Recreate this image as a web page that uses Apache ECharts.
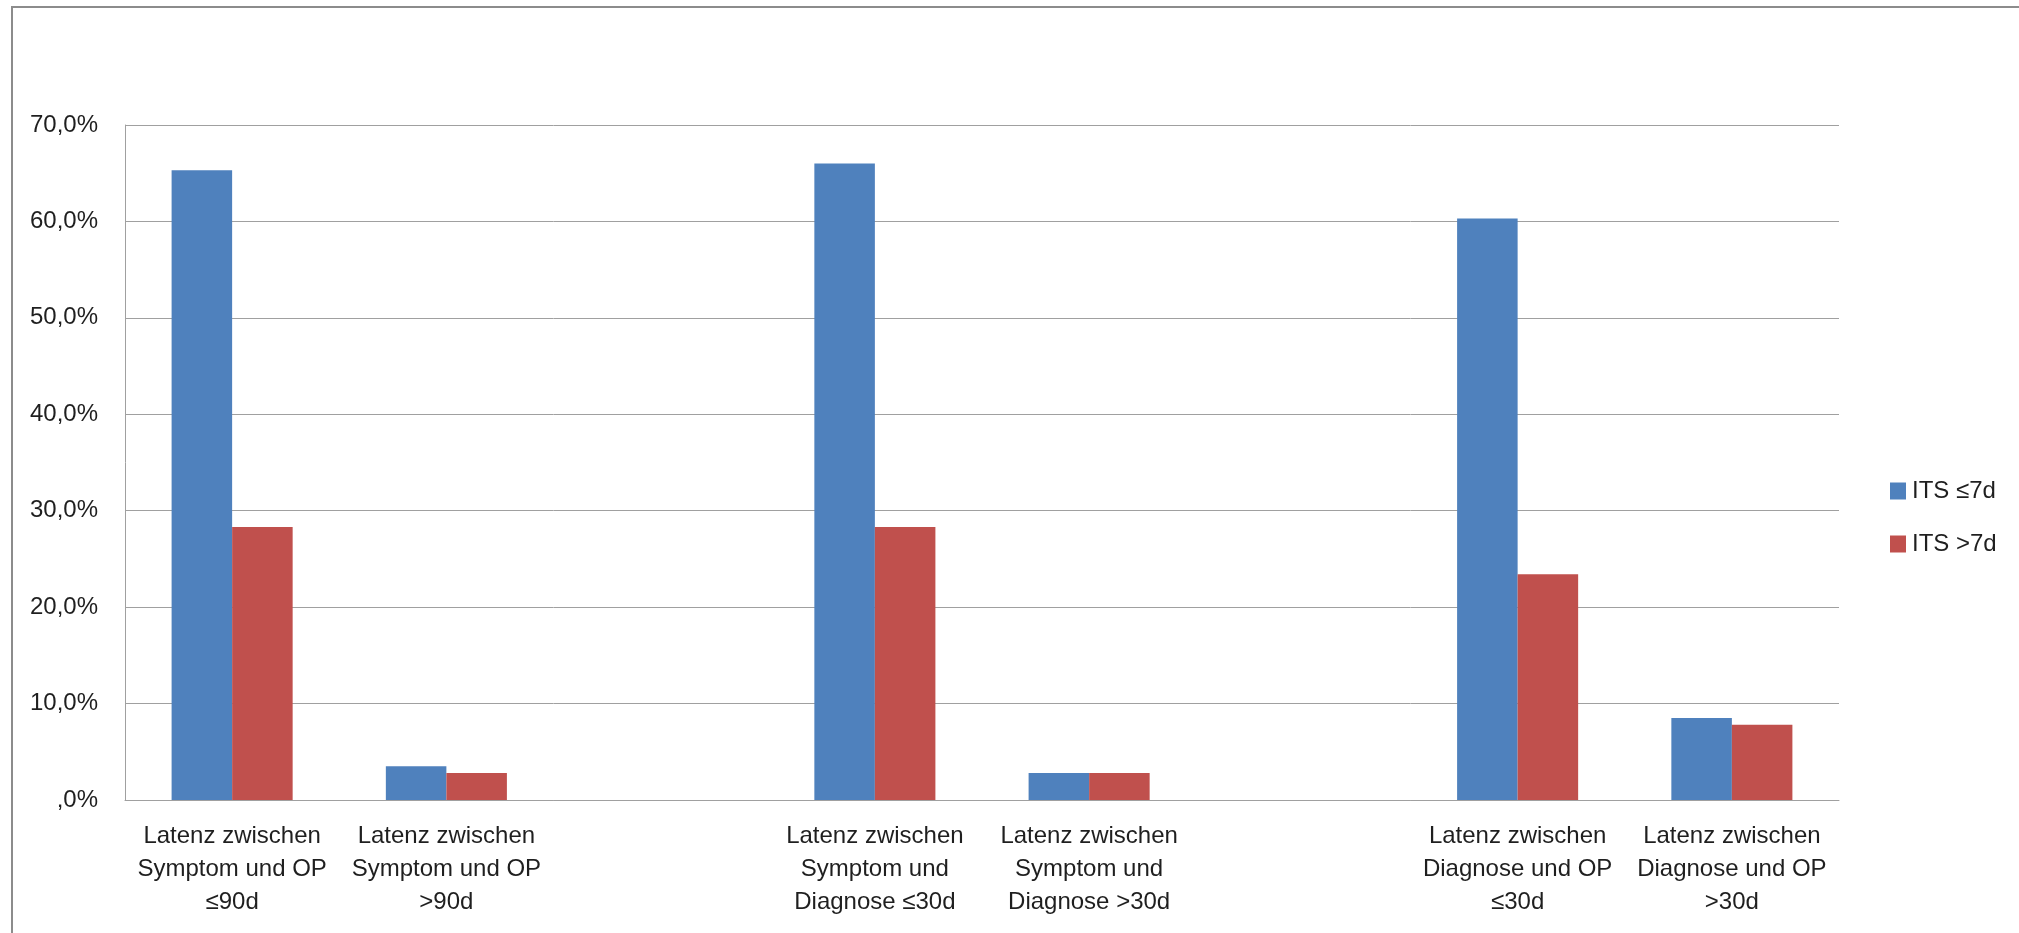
<!DOCTYPE html>
<html>
<head>
<meta charset="utf-8">
<script src="https://cdn.jsdelivr.net/npm/echarts@6/dist/echarts.min.js"></script>
<style>
  html, body { margin: 0; padding: 0; background: #fff; }
  #chart { width: 2019px; height: 933px; }
</style>
</head>
<body>
<div id="chart"></div>
<script>
// Latency categories (empty slots separate the three pairs)
const categories = [
  'Latenz zwischen\nSymptom und OP\n≤90d',
  'Latenz zwischen\nSymptom und OP\n>90d',
  '',
  'Latenz zwischen\nSymptom und\nDiagnose ≤30d',
  'Latenz zwischen\nSymptom und\nDiagnose >30d',
  '',
  'Latenz zwischen\nDiagnose und OP\n≤30d',
  'Latenz zwischen\nDiagnose und OP\n>30d'
];

// Share of patients in percent
const itsUpTo7 = [65.3, 3.5, null, 66.0, 2.8, null, 60.3, 8.5];
const itsOver7 = [28.3, 2.8, null, 28.3, 2.8, null, 23.4, 7.8];

const seriesNames = ['ITS ≤7d', 'ITS >7d'];
const yTicks = { min: 0, max: 70, step: 10 };

const FONT = 'Liberation Sans';
const TEXT = '#1f1f1f';
const GRID = '#a0a0a0';

function fmtPct(v) {
  if (v === 0) return ',0%';
  return v.toFixed(1).replace('.', ',') + '%';
}

const chart = echarts.init(document.getElementById('chart'), null, { renderer: 'canvas' });

chart.setOption({
  backgroundColor: '#ffffff',
  animation: false,
  graphic: [{
    type: 'rect',
    shape: { x: 12, y: 7, width: 2100, height: 1000 },
    style: { fill: 'none', stroke: '#8c8c8c', lineWidth: 2 },
    silent: true
  }],
  grid: { left: 125, right: 180, top: 125, bottom: 133, containLabel: false },
  legend: {
    orient: 'vertical',
    left: 1885,
    top: 474,
    itemWidth: 16,
    itemHeight: 17,
    itemGap: 29,
    icon: 'rect',
    textStyle: { fontFamily: FONT, fontSize: 24, color: TEXT, padding: [0, 0, 0, 1] },
    data: seriesNames
  },
  xAxis: {
    type: 'category',
    data: categories,
    axisLine: { show: true, lineStyle: { color: GRID, width: 1 } },
    axisTick: { show: false },
    axisLabel: {
      interval: 0,
      margin: 20,
      fontFamily: FONT,
      fontSize: 24,
      lineHeight: 33,
      color: TEXT,
      align: 'center'
    },
    splitLine: { show: false }
  },
  yAxis: {
    type: 'value',
    min: yTicks.min,
    max: yTicks.max,
    interval: yTicks.step,
    axisLine: { show: true, lineStyle: { color: GRID, width: 1 } },
    axisTick: { show: false },
    axisLabel: {
      margin: 27,
      fontFamily: FONT,
      fontSize: 24,
      color: TEXT,
      formatter: fmtPct
    },
    splitLine: { show: true, lineStyle: { color: GRID, width: 1 } }
  },
  series: [
    {
      name: seriesNames[0],
      type: 'bar',
      data: itsUpTo7,
      itemStyle: { color: '#4F81BD' },
      barGap: '0%',
      barCategoryGap: '43.5%'
    },
    {
      name: seriesNames[1],
      type: 'bar',
      data: itsOver7,
      itemStyle: { color: '#C0504D' },
      barGap: '0%',
      barCategoryGap: '43.5%'
    }
  ]
});
</script>
</body>
</html>
